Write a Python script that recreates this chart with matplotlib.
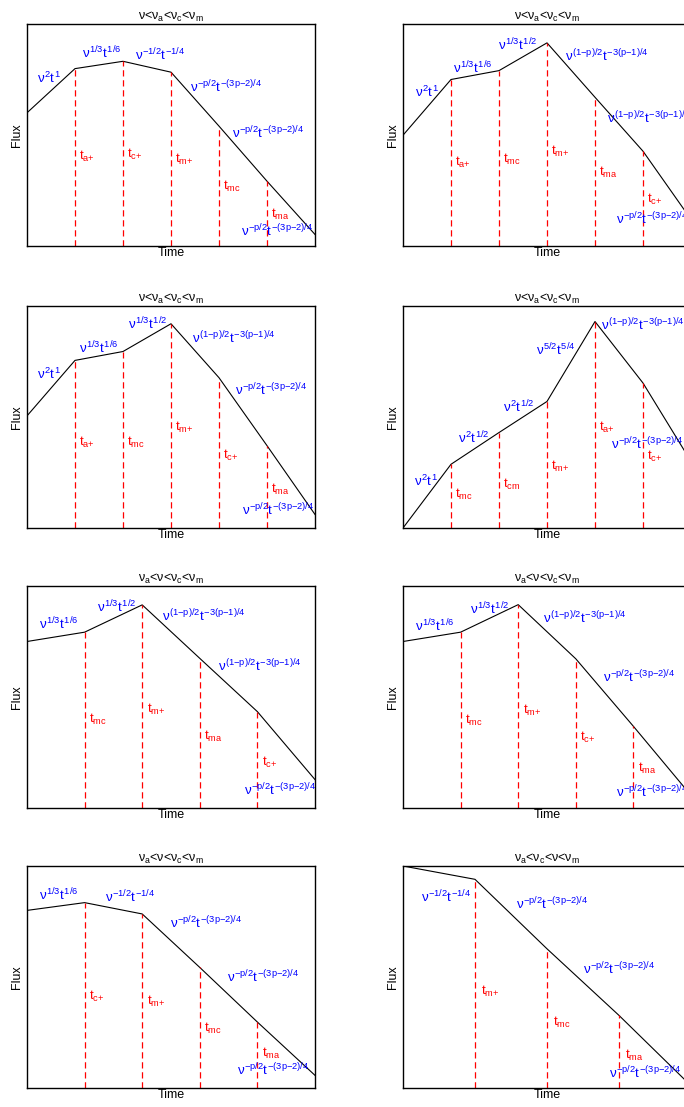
import matplotlib
matplotlib.use('Agg')
import matplotlib.pyplot as plt

# segment labels (power-law slopes)
A = r'$\nu^{2}t^{1}$'
B = r'$\nu^{1/3}t^{1/6}$'
C = r'$\nu^{1/3}t^{1/2}$'
D = r'$\nu^{-1/2}t^{-1/4}$'
E = r'$\nu^{-p/2}t^{-(3p{-}2)/4}$'
F = r'$\nu^{(1{-}p)/2}t^{-3(p{-}1)/4}$'
G = r'$\nu^{2}t^{1/2}$'
H = r'$\nu^{5/2}t^{5/4}$'

# plain "<" keeps the ordering tight (mathtext pads relations)
titles = ['ν<ν$_a$<ν$_c$<ν$_m$', 'ν<ν$_a$<ν$_c$<ν$_m$',
          'ν<ν$_a$<ν$_c$<ν$_m$', 'ν<ν$_a$<ν$_c$<ν$_m$',
          'ν$_a$<ν<ν$_c$<ν$_m$', 'ν$_a$<ν<ν$_c$<ν$_m$',
          'ν$_a$<ν<ν$_c$<ν$_m$', 'ν$_a$<ν$_c$<ν<ν$_m$']

# break times (log t, arbitrary units)
times = [[0, 1, 2, 3, 4, 5, 6],
         [0, 1, 2, 3, 4, 5, 6],
         [0, 1, 2, 3, 4, 5, 6],
         [0, 1, 2, 3, 4, 5, 6],
         [0, 1, 2, 3, 4, 5],
         [0, 1, 2, 3, 4, 5],
         [0, 1, 2, 3, 4, 5],
         [0, 1, 2, 3, 4]]

# log flux at each break (fraction of the axis)
fluxes = [[0.600, 0.799, 0.832, 0.783, 0.540, 0.292, 0.052],
          [0.499, 0.750, 0.790, 0.915, 0.670, 0.427, 0.120],
          [0.505, 0.755, 0.795, 0.920, 0.677, 0.371, 0.061],
          [0.000, 0.287, 0.430, 0.570, 0.930, 0.653, 0.300],
          [0.750, 0.792, 0.915, 0.674, 0.434, 0.128],
          [0.750, 0.792, 0.916, 0.672, 0.368, 0.057],
          [0.800, 0.835, 0.784, 0.543, 0.297, 0.057],
          [1.000, 0.940, 0.627, 0.327, 0.010]]

break_names = [['a+', 'c+', 'm+', 'mc', 'ma'],
               ['a+', 'mc', 'm+', 'ma', 'c+'],
               ['a+', 'mc', 'm+', 'c+', 'ma'],
               ['mc', 'cm', 'm+', 'a+', 'c+'],
               ['mc', 'm+', 'ma', 'c+'],
               ['mc', 'm+', 'c+', 'ma'],
               ['c+', 'm+', 'mc', 'ma'],
               ['m+', 'mc', 'ma']]

segment_labels = [[A, B, D, E, E, E],
                  [A, B, C, F, F, E],
                  [A, B, C, F, E, E],
                  [A, G, G, H, F, E],
                  [B, C, F, F, E],
                  [B, C, F, E, E],
                  [B, D, E, E, E],
                  [D, E, E, E]]

# where the labels sit
seg_label_xy = [[(0.21, 0.757), (1.14, 0.87), (2.24, 0.862), (3.40, 0.717), (4.27, 0.51), (4.45, 0.067)],
                [(0.24, 0.69), (1.04, 0.80), (1.98, 0.907), (3.37, 0.855), (4.24, 0.577), (4.44, 0.12)],
                [(0.21, 0.69), (1.08, 0.81), (2.10, 0.917), (3.44, 0.856), (4.34, 0.62), (4.48, 0.083)],
                [(0.23, 0.21), (1.15, 0.407), (2.08, 0.543), (2.78, 0.80), (4.13, 0.913), (4.34, 0.377)],
                [(0.20, 0.83), (1.21, 0.905), (2.34, 0.867), (3.32, 0.64), (3.76, 0.083)],
                [(0.21, 0.82), (1.16, 0.895), (2.43, 0.857), (3.47, 0.59), (3.70, 0.07)],
                [(0.20, 0.87), (1.36, 0.862), (2.49, 0.742), (3.47, 0.502), (3.64, 0.082)],
                [(0.25, 0.86), (1.57, 0.83), (2.50, 0.536), (2.86, 0.068)]]

break_label_y = [[0.405, 0.412, 0.39, 0.267, 0.142],
                 [0.375, 0.39, 0.427, 0.33, 0.21],
                 [0.386, 0.386, 0.455, 0.326, 0.174],
                 [0.151, 0.196, 0.279, 0.452, 0.324],
                 [0.40, 0.445, 0.324, 0.204],
                 [0.394, 0.44, 0.32, 0.176],
                 [0.412, 0.39, 0.27, 0.157],
                 [0.437, 0.295, 0.146]]

plt.rcParams['font.family'] = ['Liberation Sans', 'DejaVu Sans']
plt.rcParams['mathtext.fontset'] = 'custom'
plt.rcParams['mathtext.rm'] = 'Liberation Sans'
plt.rcParams['mathtext.it'] = 'Liberation Sans'
plt.rcParams['mathtext.bf'] = 'Liberation Sans:bold'

fig = plt.figure(figsize=(6.84, 11.07), dpi=100)

W, Hpx = 684.0, 1107.0
col_left = [27, 403]
row_top = [24, 306, 586, 866]
ax_w, ax_h = 288, 222

for i in range(8):
    r, c = i // 2, i % 2
    ax = fig.add_axes([col_left[c] / W, 1 - (row_top[r] + ax_h) / Hpx, ax_w / W, ax_h / Hpx])
    t = times[i]
    f = fluxes[i]
    ax.plot(t, f, color='black', lw=0.8)
    ax.vlines(t[1:-1], 0, f[1:-1], colors='red', linestyles=(0, (5, 3)), lw=0.9)
    for lab, (x, y) in zip(segment_labels[i], seg_label_xy[i]):
        ax.text(x, y, lab, color='blue', fontsize=9.5, ha='left', va='center')
    for name, tb, y in zip(break_names[i], t[1:-1], break_label_y[i]):
        nm = name.replace('+', '{+}')
        ax.text(tb + 0.08, y, r'$t_{%s}$' % nm, color='red', fontsize=9.5, ha='left', va='center')
    ax.set_xlim(t[0], t[-1])
    ax.set_ylim(0, 1)
    ax.set_xticks([])
    ax.set_yticks([])
    for s in ax.spines.values():
        s.set_linewidth(1.0)
    ax.set_title(titles[i], fontsize=9, pad=3)
    ax.set_xlabel('Time', fontsize=9, labelpad=1)
    ax.set_ylabel('Flux', fontsize=9, labelpad=3)

plt.savefig('out.png', dpi=100)
